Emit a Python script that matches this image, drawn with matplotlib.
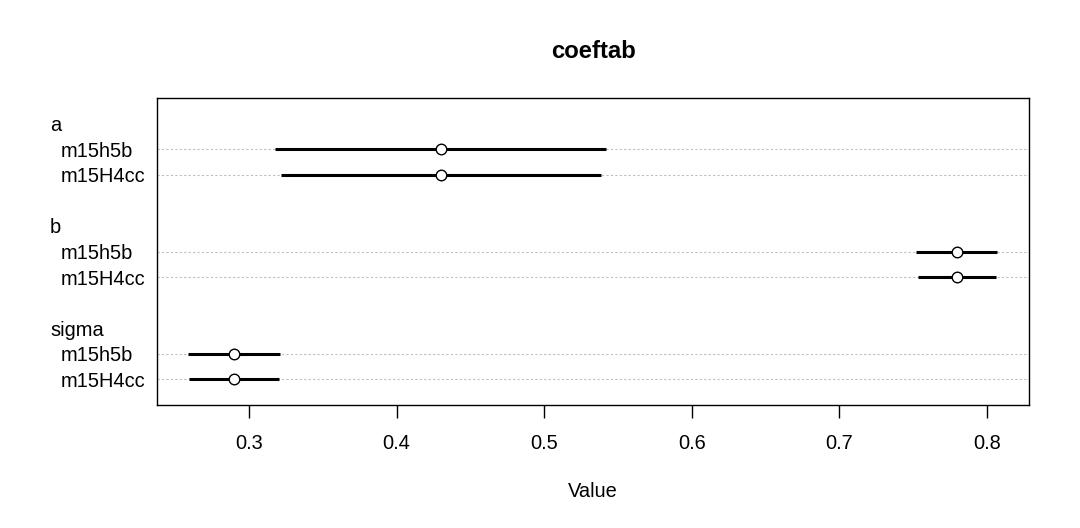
import matplotlib
matplotlib.use("Agg")
import matplotlib.pyplot as plt

plt.rcParams['font.family'] = ['Liberation Sans', 'DejaVu Sans']

params = ["a", "b", "sigma"]
models = ["m15h5b", "m15H4cc"]
means = [[0.430, 0.430], [0.780, 0.780], [0.290, 0.290]]
lower = [[0.3176, 0.3217], [0.752, 0.7533], [0.2587, 0.2593]]
upper = [[0.5419, 0.5385], [0.807, 0.806], [0.321, 0.3203]]
xticks = [0.3, 0.4, 0.5, 0.6, 0.7, 0.8]

W, H = 1080, 528
fig = plt.figure(figsize=(W / 100, H / 100), dpi=100)
L, R, T, B = 157, 1029, 98, 405
ax = fig.add_axes([L / W, 1 - B / H, (R - L) / W, (B - T) / H])

fs = 14.4
ax.set_xlim(0.2377, 0.8285)
ax.set_ylim(0, 12)

row = 11
for i, p in enumerate(params):
    ylab = row
    fig.text(50 / W, ax.transData.transform((0, ylab))[1] / H, p,
             fontsize=fs, ha='left', va='center_baseline')
    row -= 1
    for j, m in enumerate(models):
        ax.axhline(row, color='#bebebe', lw=0.8, ls=(0, (2, 2)), zorder=1)
        ax.plot([lower[i][j], upper[i][j]], [row, row], color='black', lw=2.2,
                solid_capstyle='butt', zorder=2)
        ax.plot(means[i][j], row, 'o', mfc='white', mec='black', ms=7.6,
                mew=1.0, zorder=3)
        fig.text(61 / W, ax.transData.transform((0, row))[1] / H, m,
                 fontsize=fs, ha='left', va='center_baseline')
        row -= 1
    row -= 1

ax.set_yticks([])
ax.set_xticks(xticks)
ax.set_xticklabels([f"{v:.1f}" for v in xticks])
ax.tick_params(axis='x', length=9, width=1, labelsize=fs, pad=12)
for s in ax.spines.values():
    s.set_linewidth(1)

ax.set_xlabel("Value", fontsize=fs, labelpad=21)
fig.text(593 / W, 1 - 49 / H, "coeftab", fontsize=17.2, fontweight='bold',
         ha='center', va='center_baseline')

fig.savefig("out.png", dpi=100)
